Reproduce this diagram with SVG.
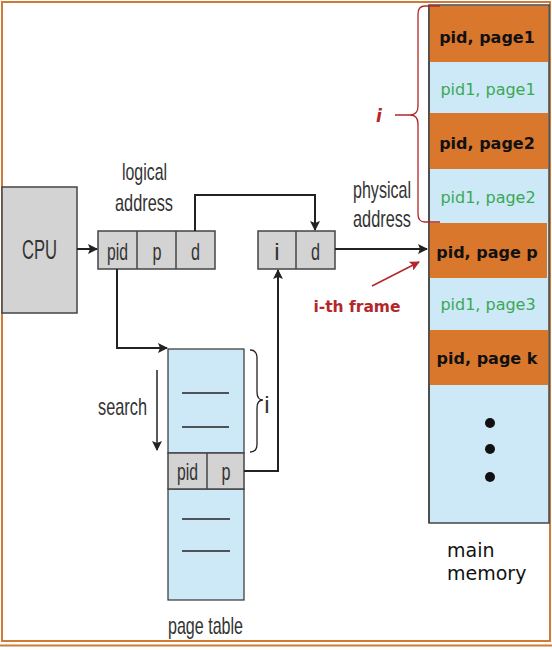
<svg xmlns="http://www.w3.org/2000/svg" width="552" height="650" viewBox="0 0 552 650">
<defs>
<marker id="ah" viewBox="0 0 10 10" refX="9" refY="5" markerWidth="10" markerHeight="10" markerUnits="userSpaceOnUse" orient="auto">
<path d="M0,0 L10,5 L0,10 L2,5 Z" fill="#222"/>
</marker>
<marker id="ahr" viewBox="0 0 10 10" refX="9" refY="5" markerWidth="10" markerHeight="10" markerUnits="userSpaceOnUse" orient="auto">
<path d="M0,0 L10,5 L0,10 L2,5 Z" fill="#b3272a"/>
</marker>
</defs>
<style>
.lbl{font-family:"Liberation Sans",Arial,sans-serif;font-size:24px;fill:#333;}
.cell{fill:#d3d3d3;stroke:#444;stroke-width:1.5;}
.pt{fill:#cde8f6;stroke:#333;stroke-width:1.2;}
.conn{fill:none;stroke:#222;stroke-width:2;}
.org{fill:#d9782d;}
.blu{fill:#cde8f6;}
.mb{font-family:"DejaVu Sans",Verdana,sans-serif;font-size:16px;font-weight:bold;fill:#111;}
.mg{font-family:"DejaVu Sans",Verdana,sans-serif;font-size:16px;fill:#3aa955;}
.tl{stroke:#222;stroke-width:1.5;}
</style>
<rect width="552" height="650" fill="#fff"/>
<!-- frame -->
<g id="frame" fill="none" stroke="#cf7a35">
<rect x="2" y="2" width="548" height="639" stroke-width="2"/>
<line x1="0" y1="645.5" x2="552" y2="645.5" stroke-width="2"/>
</g>
<!-- CPU -->
<g id="cpu">
<rect x="2" y="187" width="75" height="126" class="cell"/>
<text x="22" y="259" class="lbl" style="font-size:27px" textLength="35" lengthAdjust="spacingAndGlyphs">CPU</text>
</g>
<!-- logical address -->
<g id="logical">
<text x="122" y="180" class="lbl" textLength="45" lengthAdjust="spacingAndGlyphs">logical</text>
<text x="115" y="211" class="lbl" textLength="58" lengthAdjust="spacingAndGlyphs">address</text>
<rect x="98" y="231" width="117" height="38" class="cell"/>
<line x1="137" y1="231" x2="137" y2="269" class="cell"/>
<line x1="176" y1="231" x2="176" y2="269" class="cell"/>
<text x="107" y="260" class="lbl" textLength="21" lengthAdjust="spacingAndGlyphs">pid</text>
<text x="152.5" y="260" class="lbl" textLength="9" lengthAdjust="spacingAndGlyphs">p</text>
<text x="191" y="260" class="lbl" textLength="9" lengthAdjust="spacingAndGlyphs">d</text>
</g>
<!-- physical address -->
<g id="physical">
<text x="353" y="198" class="lbl" textLength="58" lengthAdjust="spacingAndGlyphs">physical</text>
<text x="353" y="227" class="lbl" textLength="58" lengthAdjust="spacingAndGlyphs">address</text>
<rect x="258" y="231" width="77" height="38" class="cell"/>
<line x1="296" y1="231" x2="296" y2="269" class="cell"/>
<text x="277" y="260" class="lbl" text-anchor="middle">i</text>
<text x="311" y="260" class="lbl" textLength="9" lengthAdjust="spacingAndGlyphs">d</text>
</g>
<!-- page table -->
<g id="pagetable">
<rect x="168" y="349" width="76" height="104" class="pt"/>
<rect x="168" y="489" width="76" height="111" class="pt"/>
<rect x="168" y="453" width="76" height="36" class="cell"/>
<line x1="207" y1="453" x2="207" y2="489" class="cell"/>
<text x="177" y="480" class="lbl" textLength="21" lengthAdjust="spacingAndGlyphs">pid</text>
<text x="221.5" y="480" class="lbl" textLength="9" lengthAdjust="spacingAndGlyphs">p</text>
<line x1="182" y1="393" x2="229" y2="393" class="tl"/>
<line x1="182" y1="427" x2="229" y2="427" class="tl"/>
<line x1="182" y1="519" x2="230" y2="519" class="tl"/>
<line x1="182" y1="551" x2="230" y2="551" class="tl"/>
<text x="168" y="634" class="lbl" textLength="75" lengthAdjust="spacingAndGlyphs">page table</text>
<path d="M250,350 Q257,350 257,358 L257,392 Q257,400 263,400 Q257,400 257,408 L257,444 Q257,452 250,452" fill="none" stroke="#222" stroke-width="1.3"/>
<text x="267" y="413" class="lbl" text-anchor="middle">i</text>
<text x="98" y="415" class="lbl" textLength="49" lengthAdjust="spacingAndGlyphs">search</text>
</g>
<!-- main memory -->
<g id="memory">
<rect x="429" y="5" width="120" height="518" class="blu" stroke="#444" stroke-width="1.5"/>
<rect x="429" y="6" width="119" height="56" class="org"/>
<rect x="429" y="113" width="119" height="56" class="org"/>
<rect x="429" y="223" width="118" height="55" class="org"/>
<rect x="429" y="330" width="119" height="55" class="org"/>
<line x1="429" y1="5" x2="429" y2="523" stroke="#444" stroke-width="1.5"/>
<text x="487" y="43" class="mb" text-anchor="middle">pid, page1</text>
<text x="488" y="95" class="mg" text-anchor="middle">pid1, page1</text>
<text x="487" y="149" class="mb" text-anchor="middle">pid, page2</text>
<text x="488" y="203" class="mg" text-anchor="middle">pid1, page2</text>
<text x="487" y="258" class="mb" text-anchor="middle">pid, page p</text>
<text x="488" y="310" class="mg" text-anchor="middle">pid1, page3</text>
<text x="487" y="364" class="mb" text-anchor="middle">pid, page k</text>
<circle cx="490" cy="423" r="5" fill="#111"/>
<circle cx="490" cy="449" r="5" fill="#111"/>
<circle cx="490" cy="477" r="5" fill="#111"/>
<text x="447" y="557" font-family="DejaVu Sans,Verdana,sans-serif" font-size="19" fill="#111">main</text>
<text x="447" y="580" font-family="DejaVu Sans,Verdana,sans-serif" font-size="19" fill="#111">memory</text>
<path d="M440,6 L425,6 Q418,6 418,14 L418,106 Q418,115 410,115 L395,115 M410,115 Q418,115 418,124 L418,214 Q418,222 425,222 L440,222" fill="none" stroke="#b3272a" stroke-width="1.3"/>
<text x="379" y="122" font-family="DejaVu Sans,Verdana,sans-serif" font-size="17" font-weight="bold" font-style="italic" fill="#b3272a" text-anchor="middle">i</text>
<text x="357" y="312" font-family="DejaVu Sans,Verdana,sans-serif" font-size="15.5" font-weight="bold" fill="#b3272a" text-anchor="middle">i-th frame</text>
</g>
<!-- connectors -->
<g id="connectors">
<line x1="77" y1="249" x2="97" y2="249" class="conn" marker-end="url(#ah)"/>
<polyline points="195,231 195,195 315,195 315,230" class="conn" marker-end="url(#ah)"/>
<line x1="335" y1="249" x2="427" y2="249" class="conn" marker-end="url(#ah)"/>
<polyline points="117,269 117,348 167,348" class="conn" marker-end="url(#ah)"/>
<polyline points="244,471 278,471 278,270" class="conn" marker-end="url(#ah)"/>
<line x1="157" y1="370" x2="157" y2="450" stroke="#222" stroke-width="1.5" marker-end="url(#ah)"/>
<line x1="372" y1="286" x2="419" y2="262" stroke="#b3272a" stroke-width="1.5" marker-end="url(#ahr)"/>
</g>
</svg>
